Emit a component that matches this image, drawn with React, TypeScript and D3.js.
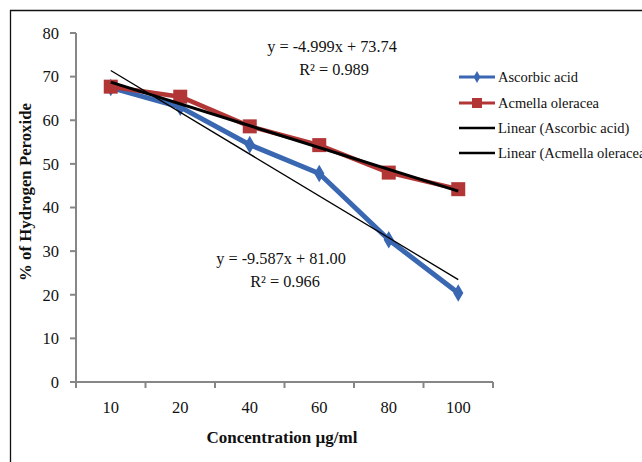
import React from "react";
import * as d3 from "d3";

const categories = ["10", "20", "40", "60", "80", "100"];
const ascorbic = [67.5, 63.0, 54.4, 47.8, 32.6, 20.4];
const acmella = [67.7, 65.4, 58.6, 54.3, 48.0, 44.2];
const yTicks = [0, 10, 20, 30, 40, 50, 60, 70, 80];
// trendline coefficients (x is the category index 1..6)
const ascorbicFit = { slope: -9.587, intercept: 81.0, label: "y = -9.587x + 81.00", r2: "R² = 0.966" };
const acmellaFit = { slope: -4.999, intercept: 73.74, label: "y = -4.999x + 73.74", r2: "R² = 0.989" };
const legendLabels = ["Ascorbic acid", "Acmella oleracea", "Linear (Ascorbic acid)", "Linear (Acmella oleracea)"];

const BLUE = "#3a67b1";
const RED = "#b23636";
const AXIS = "#868686";
const FONT = "'Liberation Serif', 'Times New Roman', serif";

export default function App() {
  const width = 642;
  const height = 462;
  const margin = { left: 76, right: 149, top: 33, bottom: 80 };

  const x = d3.scaleBand().domain(categories).range([margin.left, width - margin.right]);
  const y = d3.scaleLinear().domain([0, 80]).range([height - margin.bottom, margin.top]);
  const cx = (i: number) => (x(categories[i]) as number) + x.bandwidth() / 2;

  const line = d3.line<number>().x((_, i) => cx(i)).y((d) => y(d));
  const fitLine = (f: { slope: number; intercept: number }) =>
    d3.line<number>().x((i) => cx(i)).y((i) => y(f.slope * (i + 1) + f.intercept))([0, categories.length - 1]) as string;

  const x0 = margin.left;
  const x1 = width - margin.right;
  const yb = y(0);
  const bounds = [...categories.map((c) => x(c) as number), x1];

  const diamond = d3.symbol(d3.symbolDiamond, 90)() as string;
  const smallDiamond = d3.symbol(d3.symbolDiamond, 40)() as string;

  const legendX = 459;
  const legendY = [77, 103, 128, 153];

  return (
    <svg width={width} height={height} style={{ position: "absolute", left: 0, top: 0 }} fontFamily={FONT}>
      <rect x={0} y={0} width={width} height={height} fill="#fff" />
      <path d={`M10.5,${height + 2}V10.5H${width + 2}`} fill="none" stroke="#111" strokeWidth={1.3} />

      {/* y axis */}
      <line x1={x0} x2={x0} y1={y(80)} y2={yb} stroke={AXIS} strokeWidth={2} />
      {yTicks.map((t) => (
        <g key={t}>
          <line x1={x0 - 6} x2={x0} y1={y(t)} y2={y(t)} stroke={AXIS} strokeWidth={2} />
          <text x={x0 - 17} y={y(t)} dy="0.35em" textAnchor="end" fontSize={16.5} fill="#111">
            {t}
          </text>
        </g>
      ))}

      {/* x axis */}
      <line x1={x0} x2={x1} y1={yb} y2={yb} stroke={AXIS} strokeWidth={2} />
      {bounds.map((b, i) => (
        <line key={i} x1={b} x2={b} y1={yb} y2={yb + 6} stroke={AXIS} strokeWidth={2} />
      ))}
      {categories.map((c, i) => (
        <text key={c} x={cx(i)} y={yb + 31} textAnchor="middle" fontSize={16.5} fill="#111">
          {c}
        </text>
      ))}

      {/* series */}
      <path d={line(ascorbic) as string} fill="none" stroke={BLUE} strokeWidth={5} strokeLinejoin="round" />
      {ascorbic.map((v, i) => (
        <path key={i} d={diamond} transform={`translate(${cx(i)},${y(v)})`} fill={BLUE} />
      ))}
      <path d={line(acmella) as string} fill="none" stroke={RED} strokeWidth={4.5} strokeLinejoin="round" />
      {acmella.map((v, i) => (
        <rect key={i} x={cx(i) - 7} y={y(v) - 7} width={14} height={14} fill={RED} />
      ))}

      {/* trendlines */}
      <path d={fitLine(ascorbicFit)} fill="none" stroke="#000" strokeWidth={1.3} />
      <path d={fitLine(acmellaFit)} fill="none" stroke="#000" strokeWidth={3} />

      {/* equations */}
      <g fontSize={16.3} fill="#111" textAnchor="middle">
        <text x={332} y={52}>{acmellaFit.label}</text>
        <text x={334} y={75}>{acmellaFit.r2}</text>
        <text x={281} y={264}>{ascorbicFit.label}</text>
        <text x={285} y={287}>{ascorbicFit.r2}</text>
      </g>

      {/* legend */}
      {legendLabels.map((l, i) => (
        <g key={l} transform={`translate(${legendX},${legendY[i]})`}>
          <line x1={0} x2={36} y1={0} y2={0} stroke={i === 0 ? BLUE : i === 1 ? RED : "#000"} strokeWidth={i < 2 ? 3 : 2.5} />
          {i === 0 && <path d={smallDiamond} transform="translate(18,0)" fill={BLUE} />}
          {i === 1 && <rect x={13} y={-5} width={10} height={10} fill={RED} />}
          <text x={39} y={0} dy="0.33em" fontSize={14.5} fill="#111">
            {l}
          </text>
        </g>
      ))}

      {/* axis titles */}
      <text x={282} y={443} textAnchor="middle" fontSize={17} fontWeight="bold" fill="#111">
        Concentration µg/ml
      </text>
      <text transform="translate(31,192) rotate(-90)" textAnchor="middle" fontSize={16.8} fontWeight="bold" fill="#111">
        % of Hydrogen Peroxide
      </text>
    </svg>
  );
}
